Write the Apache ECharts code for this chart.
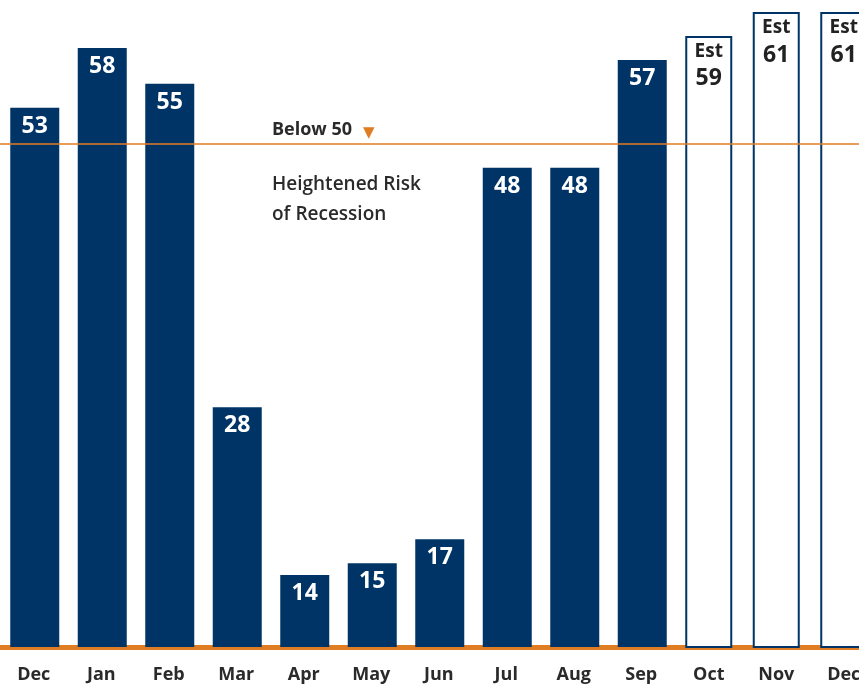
<!DOCTYPE html>
<html><head><meta charset="utf-8">
<script src="https://cdn.jsdelivr.net/npm/echarts@6/dist/echarts.min.js"></script>
<style>html,body{margin:0;padding:0;background:#fff}#c{width:859px;height:684px}</style>
</head><body><div id="c"></div>
<script>
const categories = ['Dec','Jan','Feb','Mar','Apr','May','Jun','Jul','Aug','Sep','Oct','Nov','Dec'];
const actualValues = [53,58,55,28,14,15,17,48,48,57,'-','-','-'];
const estimateValues = ['-','-','-','-','-','-','-','-','-','-',59,61,61];
const thresholdValue = 50;
const NAVY = '#003466', ORANGE = '#E07C22';
const chart = echarts.init(document.getElementById('c'), null, {renderer:'canvas'});
chart.setOption({
  animation:false,
  grid:{left:0, top:0, width:877.5, bottom:37, containLabel:false, outerBoundsMode:'none'},
  xAxis:{type:'category', data:categories,
    axisLine:{show:true, lineStyle:{color:ORANGE, width:5}},
    axisTick:{show:false},
    axisLabel:{color:'#2a2a2a', fontSize:18, fontWeight:'bold', fontFamily:'Open Sans', margin:19}},
  yAxis:{type:'value', min:8, max:62, show:false, splitLine:{show:false}},
  series:[
    {type:'bar', data:actualValues, barWidth:49, z:2,
      itemStyle:{color:NAVY},
      label:{show:true, position:'insideTop', distance:7, color:'#fff', fontSize:23, fontWeight:'bold', fontFamily:'Open Sans'},
      markLine:{silent:true, symbol:'none', z:5,
        lineStyle:{color:ORANGE, width:1.5, type:'solid'},
        label:{show:false},
        data:[{yAxis:thresholdValue}]}},
    {type:'bar', data:estimateValues, barWidth:47, barGap:'-100%', z:2,
      itemStyle:{color:'#fff', borderColor:NAVY, borderWidth:2},
      label:{show:true, position:'insideTop', distance:3,
        formatter:p=>'{e|Est}\n{v|'+p.value+'}',
        rich:{e:{color:'#222', fontSize:19, fontWeight:'bold', fontFamily:'Open Sans', lineHeight:26},
              v:{color:'#222', fontSize:23, fontWeight:'bold', fontFamily:'Open Sans', lineHeight:28}}}}
  ],
  graphic:[
    {type:'text', left:272, top:121, style:{text:'Below 50', fill:'#2a2a2a', font:'bold 18px "Open Sans"'}},
    {type:'text', left:363, top:126, style:{text:'▼', fill:ORANGE, font:'15px "DejaVu Sans"'}},
    {type:'text', left:272, top:170, style:{text:'Heightened Risk\nof Recession', fill:'#2a2a2a', font:'600 19px "Open Sans"', lineHeight:30}}
  ]
});
</script></body></html>
